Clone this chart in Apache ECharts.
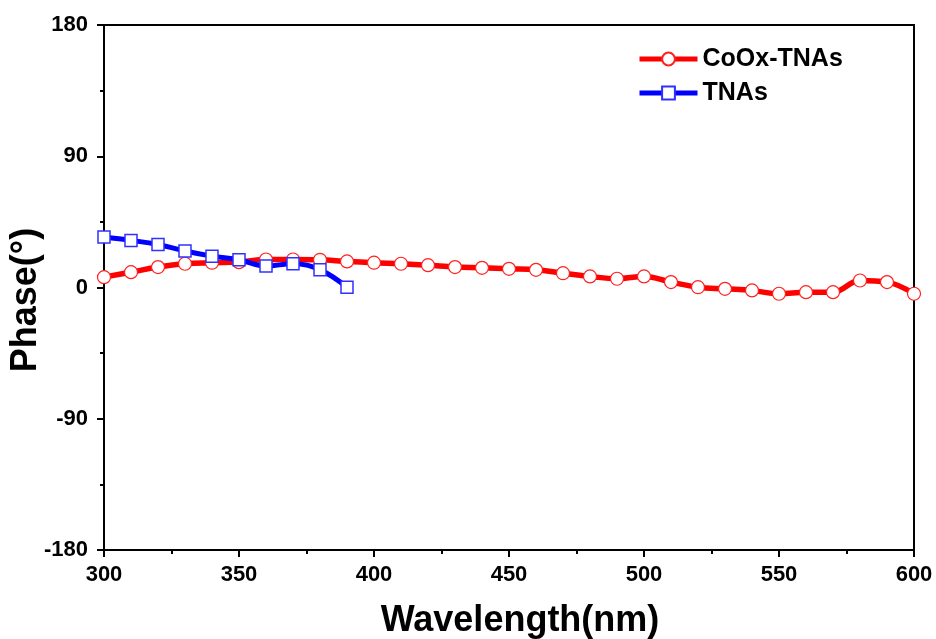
<!DOCTYPE html>
<html>
<head>
<meta charset="utf-8">
<script src="https://cdn.jsdelivr.net/npm/echarts@6/dist/echarts.min.js"></script>
<style>
html,body{margin:0;padding:0;background:#fff;}
#chart{width:936px;height:639px;}
</style>
</head>
<body>
<div id="chart"></div>
<script>
// Data
const cooxWavelength = [300,310,320,330,340,350,360,370,380,390,400,410,420,430,440,450,460,470,480,490,500,510,520,530,540,550,560,570,580,590,600];
const cooxPhase = [7.1,10.5,14,16.3,17,17.4,19.2,19.2,19,17.9,17,16.3,15.3,14,13.5,12.8,12.1,9.8,7.6,6,7.6,3.7,0.2,-0.9,-2,-4.3,-3.2,-3.2,4.8,3.7,-4.3];
const tnasWavelength = [300,310,320,330,340,350,360,370,380,390];
const tnasPhase = [34.6,32.3,29.5,25,21.5,19,14.7,16.3,12.1,0.2];
const xTicks = {min:300, max:600, interval:50};
const yTicks = {min:-180, max:180, interval:90};

const FONT = '"Liberation Sans", Arial, sans-serif';
const pairs = (xs, ys) => xs.map((x, i) => [x, ys[i]]);

const chart = echarts.init(document.getElementById('chart'));
chart.setOption({
  backgroundColor: '#ffffff',
  animation: false,
  grid: {left:104, right:22, top:25, bottom:89, containLabel:false, outerBoundsMode:'none',
         show:true, borderColor:'#000', borderWidth:2, backgroundColor:'transparent'},
  legend: {
    orient: 'vertical',
    left: 632, top: 41,
    itemWidth: 58, itemHeight: 16, itemGap: 8,
    textStyle: {fontFamily: FONT, fontWeight: 'bold', fontSize: 25, color: '#000', lineHeight: 26},
    data: [
      {name: 'CoOx-TNAs', lineStyle: {width: 5, color: '#ff0000'}},
      {name: 'TNAs', lineStyle: {width: 5, color: '#0000ff'}}
    ]
  },
  xAxis: {
    type: 'value', min: xTicks.min, max: xTicks.max, interval: xTicks.interval,
    name: 'Wavelength(nm)', nameLocation: 'middle', nameGap: 53,
    nameTextStyle: {fontFamily: FONT, fontWeight: 'bold', fontSize: 36, color: '#000', padding: [0, 0, 0, 22]},
    axisLine: {show: true, onZero: false, lineStyle: {color: '#000', width: 2}},
    axisTick: {show: true, inside: false, length: 7, lineStyle: {color: '#000', width: 2}},
    minorTick: {show: true, splitNumber: 2, length: 4, lineStyle: {color: '#000', width: 2}},
    axisLabel: {fontFamily: FONT, fontWeight: 'bold', fontSize: 22, color: '#000', margin: 14},
    splitLine: {show: false}
  },
  yAxis: {
    type: 'value', min: yTicks.min, max: yTicks.max, interval: yTicks.interval,
    name: 'Phase(°)', nameLocation: 'middle', nameGap: 60, nameRotate: 90, nameMoveOverlap: false,
    nameTextStyle: {fontFamily: FONT, fontWeight: 'bold', fontSize: 36, color: '#000', padding: [0, 25, 0, 0]},
    axisLine: {show: true, onZero: false, lineStyle: {color: '#000', width: 2}},
    axisTick: {show: true, inside: false, length: 7, lineStyle: {color: '#000', width: 2}},
    minorTick: {show: true, splitNumber: 2, length: 4, lineStyle: {color: '#000', width: 2}},
    axisLabel: {fontFamily: FONT, fontWeight: 'bold', fontSize: 22, color: '#000', margin: 16},
    splitLine: {show: false}
  },
  series: [
    {
      name: 'CoOx-TNAs', type: 'line', smooth: 0.4,
      data: pairs(cooxWavelength, cooxPhase),
      symbol: 'circle', symbolSize: 13, showAllSymbol: true,
      lineStyle: {color: '#ff0000', width: 5.5},
      itemStyle: {color: '#ffffff', borderColor: '#ff2020', borderWidth: 1.2},
      z: 2
    },
    {
      name: 'TNAs', type: 'line', smooth: 0.4,
      data: pairs(tnasWavelength, tnasPhase),
      symbol: 'rect', symbolSize: 12, showAllSymbol: true,
      lineStyle: {color: '#0000ff', width: 5},
      itemStyle: {color: '#ffffff', borderColor: '#3030ff', borderWidth: 1.5},
      z: 3
    }
  ]
});
</script>
</body>
</html>
